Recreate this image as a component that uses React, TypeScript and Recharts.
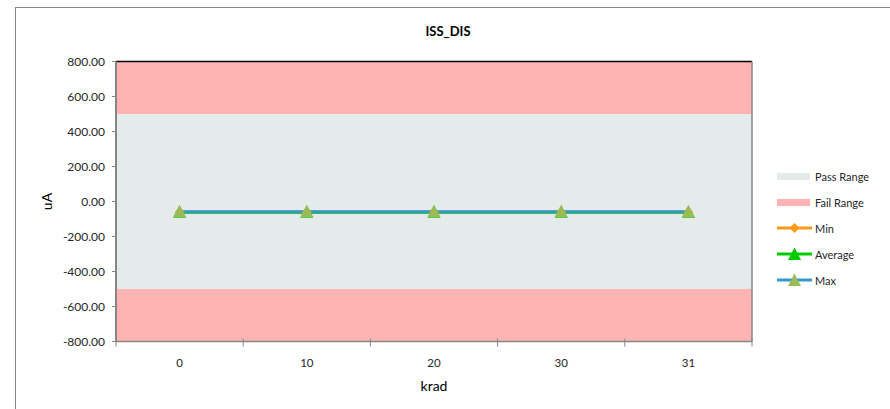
import { Line, LineChart, ReferenceArea, ReferenceLine, XAxis, YAxis } from "recharts";

const categories = ["0", "10", "20", "30", "31"];
const minValues = [-62, -62, -62, -62, -62];
const averageValues = [-61, -61, -61, -61, -61];
const maxValues = [-59, -59, -59, -59, -59];
const yTicks = [-800, -600, -400, -200, 0, 200, 400, 600, 800];
const passRange = [-500, 500];
const failRanges = [
  [500, 800],
  [-800, -500],
];

const data = categories.map((krad, i) => ({
  krad,
  idx: i,
  min: minValues[i],
  average: averageValues[i],
  max: maxValues[i],
}));
const lastIdx = categories.length - 1;

const FONT = "Lato, 'Open Sans', sans-serif";
const AXIS = "#868686";
const PASS = "#E5EBEB";
const FAIL = "#FFB3B3";
const ORANGE = "#FF9A16";
const GREEN = "#00CC00";
const BLUE = "#3399CC";
const OLIVE = "#9BBB59";

// half of a category band (plot width 636 / 5 categories)
const HALF_BAND = 63.6;

function triangle(cx: number, cy: number, fill: string, key?: string | number) {
  return (
    <path
      key={key}
      d={`M${cx},${cy - 7} L${cx + 6.5},${cy + 5.5} L${cx - 6.5},${cy + 5.5} Z`}
      fill={fill}
    />
  );
}

function diamond(cx: number, cy: number, fill: string, key?: string | number) {
  return (
    <path
      key={key}
      d={`M${cx},${cy - 5} L${cx + 5},${cy} L${cx},${cy + 5} L${cx - 5},${cy} Z`}
      fill={fill}
    />
  );
}

function CategoryTick(props: any) {
  const { x, y, payload, index, visibleTicksCount, width } = props;
  const band = Number.isFinite(width) && visibleTicksCount ? width / visibleTicksCount : 0;
  const left = x - band / 2;
  return (
    <g>
      {band > 0 && <line x1={left} x2={left} y1={y - 3} y2={y + 5} stroke={AXIS} />}
      {band > 0 && index === visibleTicksCount - 1 && (
        <line x1={left + band} x2={left + band} y1={y - 3} y2={y + 5} stroke={AXIS} />
      )}
      <text
        x={x}
        y={y + 21}
        textAnchor="middle"
        dominantBaseline="central"
        fill="#262626"
        fontSize={11.5}
        fontFamily={FONT}
      >
        {payload.value}
      </text>
    </g>
  );
}

const legendItems = [
  { label: "Pass Range", kind: "box", color: PASS },
  { label: "Fail Range", kind: "box", color: FAIL },
  { label: "Min", kind: "diamond", color: ORANGE },
  { label: "Average", kind: "triangle", color: GREEN },
  { label: "Max", kind: "triangleMax", color: BLUE },
];

function LegendSwatch({ kind, color }: { kind: string; color: string }) {
  if (kind === "box") {
    return <span style={{ display: "inline-block", width: 33, height: 7, background: color }} />;
  }
  return (
    <svg width={35} height={14} style={{ display: "block" }}>
      <line x1={0} x2={35} y1={7} y2={7} stroke={color} strokeWidth={3} />
      {kind === "diamond" && diamond(17.5, 7, color)}
      {kind === "triangle" && triangle(17.5, 7.5, color)}
      {kind === "triangleMax" && triangle(17.5, 7.5, OLIVE)}
    </svg>
  );
}

export default function App() {
  return (
    <div
      style={{
        position: "fixed",
        left: 0,
        top: 0,
        width: 890,
        height: 409,
        overflow: "hidden",
        background: "#fff",
        fontFamily: FONT,
      }}
    >
      <div
        style={{
          position: "absolute",
          left: 15,
          top: 7,
          width: 920,
          height: 430,
          border: `1px solid ${AXIS}`,
          boxSizing: "border-box",
        }}
      >
        <div
          style={{
            position: "absolute",
            left: 0,
            top: 15,
            width: 864,
            textAlign: "center",
            fontSize: 13,
            lineHeight: "16px",
            fontWeight: 700,
            color: "#000",
          }}
        >
          ISS_DIS
        </div>

        <LineChart
          width={870}
          height={400}
          data={data}
          margin={{ top: 53.5, right: 134, left: 0, bottom: 11.5 }}
          style={{ position: "absolute", left: 0, top: 0 }}
        >
          {/* hidden index axis spanning the whole plot, used for the range bands */}
          <XAxis xAxisId="bg" dataKey="idx" type="number" domain={[0, lastIdx]} hide />
          <ReferenceArea
            xAxisId="bg"
            x1={0}
            x2={lastIdx}
            y1={passRange[0]}
            y2={passRange[1]}
            fill={PASS}
            fillOpacity={1}
            stroke="none"
          />
          {failRanges.map((r, i) => (
            <ReferenceArea
              key={i}
              xAxisId="bg"
              x1={0}
              x2={lastIdx}
              y1={r[0]}
              y2={r[1]}
              fill={FAIL}
              fillOpacity={1}
              stroke="none"
            />
          ))}
          <ReferenceLine xAxisId="bg" y={800} stroke="#000" strokeWidth={1.5} />
          <ReferenceLine xAxisId="bg" x={lastIdx} stroke={AXIS} strokeWidth={1.5} />
          <XAxis
            dataKey="krad"
            height={55}
            padding={{ left: HALF_BAND, right: HALF_BAND }}
            tickLine={false}
            tickSize={0}
            tickMargin={0}
            tick={<CategoryTick />}
            axisLine={{ stroke: AXIS, strokeWidth: 1.5 }}
            label={{
              value: "krad",
              position: "insideBottom",
              offset: 6,
              fill: "#000",
              fontSize: 14,
              fontFamily: FONT,
            }}
          />
          <YAxis
            width={100}
            domain={[-800, 800]}
            ticks={yTicks}
            interval={0}
            tickFormatter={(v: number) => v.toFixed(2)}
            tickSize={4}
            tickMargin={7}
            tickLine={{ stroke: AXIS }}
            axisLine={{ stroke: AXIS, strokeWidth: 2 }}
            tick={{ fill: "#262626", fontSize: 12, fontFamily: FONT }}
            label={{
              value: "uA",
              angle: -90,
              position: "center",
              dx: -19,
              fill: "#000",
              fontSize: 14,
              fontFamily: FONT,
            }}
          />
          <Line
            dataKey="min"
            name="Min"
            stroke={ORANGE}
            strokeWidth={3}
            isAnimationActive={false}
            dot={(p: any) => diamond(p.cx, p.cy, ORANGE, `min-${p.index}`)}
          />
          <Line
            dataKey="average"
            name="Average"
            stroke={GREEN}
            strokeWidth={3}
            isAnimationActive={false}
            dot={(p: any) => triangle(p.cx, p.cy, GREEN, `avg-${p.index}`)}
          />
          <Line
            dataKey="max"
            name="Max"
            stroke={BLUE}
            strokeWidth={3}
            isAnimationActive={false}
            dot={(p: any) => triangle(p.cx, p.cy, OLIVE, `max-${p.index}`)}
          />
        </LineChart>

        <div style={{ position: "absolute", left: 761, top: 155 }}>
          {legendItems.map((item) => (
            <div
              key={item.label}
              style={{ display: "flex", alignItems: "center", height: 26, fontSize: 11, color: "#262626" }}
            >
              <span style={{ width: 35, display: "flex", alignItems: "center" }}>
                <LegendSwatch kind={item.kind} color={item.color} />
              </span>
              <span style={{ marginLeft: 3 }}>{item.label}</span>
            </div>
          ))}
        </div>
      </div>
    </div>
  );
}
